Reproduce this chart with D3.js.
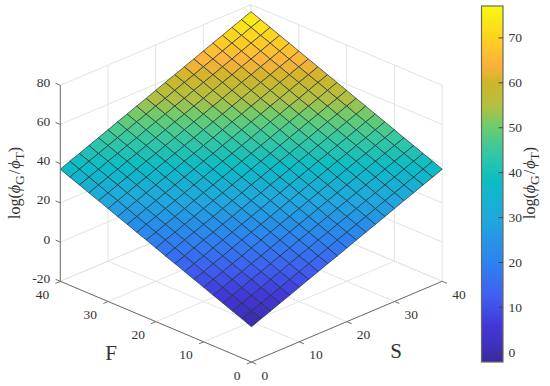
<!DOCTYPE html>
<html>
<head>
<meta charset="utf-8">
<script src="https://cdn.jsdelivr.net/npm/d3@7"></script>
<style>
  html, body { margin: 0; padding: 0; background: #fff; }
  svg { display: block; }
  text { font-family: "Liberation Serif", serif; fill: #333; }
</style>
</head>
<body>
<script>
var fTicks = [0, 10, 20, 30, 40];
var sTicks = [0, 10, 20, 30, 40];
var zTicks = [-20, 0, 20, 40, 60, 80];
var barTicks = [0, 10, 20, 30, 40, 50, 60, 70];
var barDomain = [-2.15, 77.1];

var colorValues = [-2.15, 1, 6, 13, 20, 30, 38, 45, 50, 55, 60, 64, 70, 77.1];
var colorStops = ['#3a2a9c', '#3f2fb8', '#4238d8', '#3f62f2', '#2d82f0', '#20a8dc', '#0cbcc4', '#38c8a0', '#68cc70', '#b4c040', '#ceb62a', '#fcb03c', '#fdd220', '#f8fa10'];

var fGrid = [0, 2, 4, 6, 8, 10, 12, 14, 16, 18, 20, 22, 24, 26, 28, 30, 32, 34, 36, 38, 40];
var sGrid = [0, 2, 4, 6, 8, 10, 12, 14, 16, 18, 20, 22, 24, 26, 28, 30, 32, 34, 36, 38, 40];

// one row per F value, one column per S value
var zGrid = [
  [-2.0, 0.0, 1.9, 3.9, 5.8, 7.8, 9.8, 11.7, 13.7, 15.6, 17.6, 19.6, 21.5, 23.5, 25.4, 27.4, 29.4, 31.3, 33.3, 35.2, 37.2],
  [0.0, 1.9, 3.9, 5.8, 7.8, 9.8, 11.7, 13.7, 15.6, 17.6, 19.6, 21.5, 23.5, 25.4, 27.4, 29.4, 31.3, 33.3, 35.2, 37.2, 39.2],
  [1.9, 3.9, 5.8, 7.8, 9.8, 11.7, 13.7, 15.6, 17.6, 19.6, 21.5, 23.5, 25.4, 27.4, 29.4, 31.3, 33.3, 35.2, 37.2, 39.2, 41.1],
  [3.9, 5.8, 7.8, 9.8, 11.7, 13.7, 15.6, 17.6, 19.6, 21.5, 23.5, 25.4, 27.4, 29.4, 31.3, 33.3, 35.2, 37.2, 39.2, 41.1, 43.1],
  [5.8, 7.8, 9.8, 11.7, 13.7, 15.6, 17.6, 19.6, 21.5, 23.5, 25.4, 27.4, 29.4, 31.3, 33.3, 35.2, 37.2, 39.2, 41.1, 43.1, 45.0],
  [7.8, 9.8, 11.7, 13.7, 15.6, 17.6, 19.6, 21.5, 23.5, 25.4, 27.4, 29.4, 31.3, 33.3, 35.2, 37.2, 39.2, 41.1, 43.1, 45.0, 47.0],
  [9.8, 11.7, 13.7, 15.6, 17.6, 19.6, 21.5, 23.5, 25.4, 27.4, 29.4, 31.3, 33.3, 35.2, 37.2, 39.2, 41.1, 43.1, 45.0, 47.0, 49.0],
  [11.7, 13.7, 15.6, 17.6, 19.6, 21.5, 23.5, 25.4, 27.4, 29.4, 31.3, 33.3, 35.2, 37.2, 39.2, 41.1, 43.1, 45.0, 47.0, 49.0, 50.9],
  [13.7, 15.6, 17.6, 19.6, 21.5, 23.5, 25.4, 27.4, 29.4, 31.3, 33.3, 35.2, 37.2, 39.2, 41.1, 43.1, 45.0, 47.0, 49.0, 50.9, 52.9],
  [15.6, 17.6, 19.6, 21.5, 23.5, 25.4, 27.4, 29.4, 31.3, 33.3, 35.2, 37.2, 39.2, 41.1, 43.1, 45.0, 47.0, 49.0, 50.9, 52.9, 54.8],
  [17.6, 19.6, 21.5, 23.5, 25.4, 27.4, 29.4, 31.3, 33.3, 35.2, 37.2, 39.2, 41.1, 43.1, 45.0, 47.0, 49.0, 50.9, 52.9, 54.8, 56.8],
  [19.6, 21.5, 23.5, 25.4, 27.4, 29.4, 31.3, 33.3, 35.2, 37.2, 39.2, 41.1, 43.1, 45.0, 47.0, 49.0, 50.9, 52.9, 54.8, 56.8, 58.8],
  [21.5, 23.5, 25.4, 27.4, 29.4, 31.3, 33.3, 35.2, 37.2, 39.2, 41.1, 43.1, 45.0, 47.0, 49.0, 50.9, 52.9, 54.8, 56.8, 58.8, 60.7],
  [23.5, 25.4, 27.4, 29.4, 31.3, 33.3, 35.2, 37.2, 39.2, 41.1, 43.1, 45.0, 47.0, 49.0, 50.9, 52.9, 54.8, 56.8, 58.8, 60.7, 62.7],
  [25.4, 27.4, 29.4, 31.3, 33.3, 35.2, 37.2, 39.2, 41.1, 43.1, 45.0, 47.0, 49.0, 50.9, 52.9, 54.8, 56.8, 58.8, 60.7, 62.7, 64.6],
  [27.4, 29.4, 31.3, 33.3, 35.2, 37.2, 39.2, 41.1, 43.1, 45.0, 47.0, 49.0, 50.9, 52.9, 54.8, 56.8, 58.8, 60.7, 62.7, 64.6, 66.6],
  [29.4, 31.3, 33.3, 35.2, 37.2, 39.2, 41.1, 43.1, 45.0, 47.0, 49.0, 50.9, 52.9, 54.8, 56.8, 58.8, 60.7, 62.7, 64.6, 66.6, 68.6],
  [31.3, 33.3, 35.2, 37.2, 39.2, 41.1, 43.1, 45.0, 47.0, 49.0, 50.9, 52.9, 54.8, 56.8, 58.8, 60.7, 62.7, 64.6, 66.6, 68.6, 70.5],
  [33.3, 35.2, 37.2, 39.2, 41.1, 43.1, 45.0, 47.0, 49.0, 50.9, 52.9, 54.8, 56.8, 58.8, 60.7, 62.7, 64.6, 66.6, 68.6, 70.5, 72.5],
  [35.2, 37.2, 39.2, 41.1, 43.1, 45.0, 47.0, 49.0, 50.9, 52.9, 54.8, 56.8, 58.8, 60.7, 62.7, 64.6, 66.6, 68.6, 70.5, 72.5, 74.4],
  [37.2, 39.2, 41.1, 43.1, 45.0, 47.0, 49.0, 50.9, 52.9, 54.8, 56.8, 58.8, 60.7, 62.7, 64.6, 66.6, 68.6, 70.5, 72.5, 74.4, 76.4]
];

var width = 550, height = 386;
var originX = 251.5, originY = 362;

var svg = d3.select('body').append('svg')
    .attr('width', width)
    .attr('height', height);

// fixed view: F runs to the upper left, S to the upper right, z straight up
var fX = d3.scaleLinear().domain([0, 40]).range([0, -191.2]);
var sX = d3.scaleLinear().domain([0, 40]).range([0, 190.7]);
var fY = d3.scaleLinear().domain([0, 40]).range([0, -80.7]);
var sY = d3.scaleLinear().domain([0, 40]).range([0, -80.7]);
var zY = d3.scaleLinear().domain([-20, 80]).range([0, -196]);

function project(f, s, z) {
  return [originX + fX(f) + sX(s), originY + fY(f) + sY(s) + zY(z)];
}

var color = d3.scaleLinear().domain(colorValues).range(colorStops).clamp(true);
var line = d3.line();

function segment(g, a, b, stroke, w) {
  g.append('path')
      .attr('d', line([a, b]))
      .attr('fill', 'none')
      .attr('stroke', stroke)
      .attr('stroke-width', w);
}

// grid on floor and two back walls
var grid = svg.append('g');
var gridColor = '#e3e3e3';
sTicks.forEach(function(s) {
  segment(grid, project(0, s, -20), project(40, s, -20), gridColor, 1);
  segment(grid, project(40, s, -20), project(40, s, 80), gridColor, 1);
});
fTicks.forEach(function(f) {
  segment(grid, project(f, 0, -20), project(f, 40, -20), gridColor, 1);
  segment(grid, project(f, 40, -20), project(f, 40, 80), gridColor, 1);
});
zTicks.forEach(function(z) {
  segment(grid, project(40, 0, z), project(40, 40, z), gridColor, 1);
  segment(grid, project(0, 40, z), project(40, 40, z), gridColor, 1);
});

// surface, back to front
var cells = [];
d3.range(fGrid.length - 1).forEach(function(i) {
  d3.range(sGrid.length - 1).forEach(function(j) {
    cells.push({i: i, j: j});
  });
});
cells.sort(function(a, b) { return (b.i + b.j) - (a.i + a.j); });

svg.append('g').selectAll('path')
    .data(cells)
    .enter()
    .append('path')
    .attr('d', function(d) {
      var i = d.i, j = d.j;
      return line([
        project(fGrid[i], sGrid[j], zGrid[i][j]),
        project(fGrid[i + 1], sGrid[j], zGrid[i + 1][j]),
        project(fGrid[i + 1], sGrid[j + 1], zGrid[i + 1][j + 1]),
        project(fGrid[i], sGrid[j + 1], zGrid[i][j + 1])
      ]) + 'Z';
    })
    .attr('fill', function(d) {
      var i = d.i, j = d.j;
      return color((zGrid[i][j] + zGrid[i + 1][j] + zGrid[i + 1][j + 1] + zGrid[i][j + 1]) / 4);
    })
    .attr('stroke', '#1c3038')
    .attr('stroke-width', 0.7)
    .attr('stroke-linejoin', 'round');

// axes
var axes = svg.append('g');
var axisColor = '#6e6e6e';
segment(axes, project(40, 0, -20), project(40, 0, 80), axisColor, 1);
segment(axes, project(40, 0, -20), project(0, 0, -20), axisColor, 1);
segment(axes, project(0, 0, -20), project(0, 40, -20), axisColor, 1);

fTicks.forEach(function(f) {
  segment(axes, project(f, 0, -20), project(f, -1, -20), axisColor, 1);
  var p = project(f, 0, -20);
  axes.append('text')
      .attr('x', p[0] - 11)
      .attr('y', p[1] + 17.5)
      .attr('text-anchor', 'end')
      .attr('font-size', 13.5)
      .text(f);
});
sTicks.forEach(function(s) {
  segment(axes, project(0, s, -20), project(-1, s, -20), axisColor, 1);
  var p = project(0, s, -20);
  axes.append('text')
      .attr('x', p[0] + 10)
      .attr('y', p[1] + 17.5)
      .attr('text-anchor', 'start')
      .attr('font-size', 13.5)
      .text(s);
});
zTicks.forEach(function(z) {
  segment(axes, project(40, 0, z), project(41, 0, z), axisColor, 1);
  var p = project(40, 0, z);
  axes.append('text')
      .attr('x', p[0] - 10)
      .attr('y', p[1] + 1.5)
      .attr('text-anchor', 'end')
      .attr('font-size', 13.5)
      .text(z);
});

svg.append('text')
    .attr('x', 111)
    .attr('y', 360)
    .attr('text-anchor', 'middle')
    .attr('font-size', 21)
    .attr('fill', '#222')
    .text('F');
svg.append('text')
    .attr('x', 396)
    .attr('y', 358)
    .attr('text-anchor', 'middle')
    .attr('font-size', 21)
    .attr('fill', '#222')
    .text('S');

function ratioLabel(x, y) {
  var t = svg.append('text')
      .attr('transform', 'translate(' + x + ',' + y + ') rotate(-90)')
      .attr('text-anchor', 'middle')
      .attr('font-size', 16)
      .attr('fill', '#222');
  t.append('tspan').text('log(');
  t.append('tspan').attr('font-style', 'italic').text('\u03d5');
  t.append('tspan').attr('dy', 4).attr('font-size', 13.5).text('G');
  t.append('tspan').attr('dy', -4).attr('dx', 1).text('/');
  t.append('tspan').attr('dx', 1).attr('font-style', 'italic').text('\u03d5');
  t.append('tspan').attr('dy', 4).attr('font-size', 13.5).text('T');
  t.append('tspan').attr('dy', -4).text(')');
}
ratioLabel(20, 183);
ratioLabel(535, 183);

// colorbar
var barLeft = 481.5, barRight = 503, barTop = 6, barBottom = 362;
var barScale = d3.scaleLinear().domain(barDomain).range([barBottom, barTop]);

var grad = svg.append('defs').append('linearGradient')
    .attr('id', 'barGrad')
    .attr('x1', 0).attr('x2', 0)
    .attr('y1', 1).attr('y2', 0);
colorValues.forEach(function(v, i) {
  grad.append('stop')
      .attr('offset', (v - barDomain[0]) / (barDomain[1] - barDomain[0]))
      .attr('stop-color', colorStops[i]);
});

svg.append('rect')
    .attr('x', barLeft)
    .attr('y', barTop)
    .attr('width', barRight - barLeft)
    .attr('height', barBottom - barTop)
    .attr('fill', 'url(#barGrad)')
    .attr('stroke', '#6a6a5e')
    .attr('stroke-width', 1.2);

barTicks.forEach(function(v) {
  var y = barScale(v);
  segment(svg, [barRight - 4.5, y], [barRight, y], '#444', 1);
  svg.append('text')
      .attr('x', 508.5)
      .attr('y', y + 4.5)
      .attr('font-size', 13.5)
      .text(v);
});
</script>
</body>
</html>
